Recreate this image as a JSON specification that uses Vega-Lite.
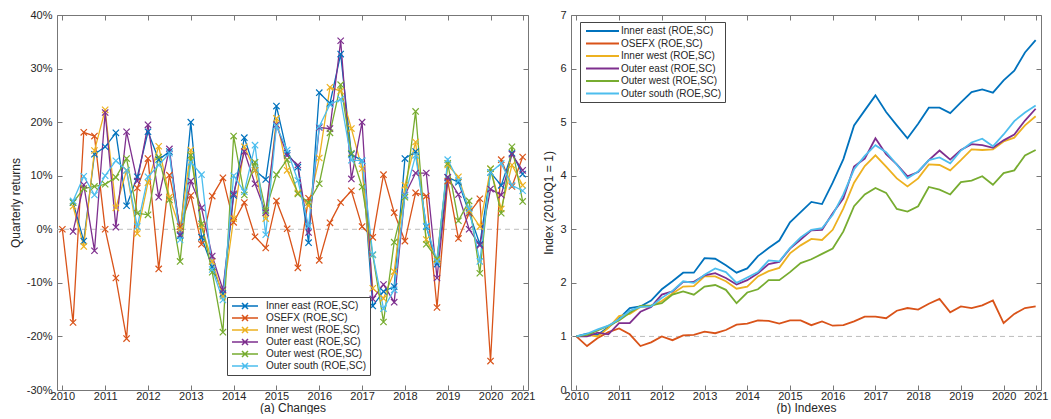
{
  "$schema": "https://vega.github.io/schema/vega-lite/v6.json",
  "padding": {"left": 8, "top": 8, "right": 5, "bottom": 0},
  "spacing": 6,
  "config": {
    "font": "Liberation Sans",
    "view": {"stroke": "#777", "strokeWidth": 1},
    "axis": {"grid": false, "domain": false, "tickColor": "#777", "labelColor": "#262626", "titleColor": "#262626", "labelFontSize": 11, "titleFontSize": 12, "titleFontWeight": "normal", "tickSize": -5, "labelPadding": 10},
    "axisX": {"labelPadding": 5}
  },
  "datasets": {
    "ret": [
      {"q":0,"os":0},
      {"q":1,"ie":5,"os":-17.4,"iw":4.3,"oe":-0.4,"ow":5,"so":5.3},
      {"q":2,"ie":-2.2,"os":18.1,"iw":-3.2,"oe":8.3,"ow":7.6,"so":9.9},
      {"q":3,"ie":14,"os":17.4,"iw":14.7,"oe":-4,"ow":8,"so":6.4},
      {"q":4,"ie":15.4,"os":0,"iw":22.3,"oe":21.8,"ow":8.4,"so":10},
      {"q":5,"ie":18,"os":-9.1,"iw":4,"oe":0.4,"ow":9.7,"so":12.8},
      {"q":6,"ie":4.4,"os":-20.4,"iw":11,"oe":18.2,"ow":13.2,"so":11},
      {"q":7,"ie":9.8,"os":7.7,"iw":-0.8,"oe":9,"ow":3,"so":0.5},
      {"q":8,"ie":18.2,"os":13.2,"iw":8.7,"oe":19.5,"ow":2.7,"so":9.8},
      {"q":9,"ie":13,"os":-7.4,"iw":15.5,"oe":6,"ow":13.5,"so":12},
      {"q":10,"ie":14.5,"os":10.1,"iw":6,"oe":15,"ow":5.5,"so":14.2},
      {"q":11,"ie":-1.2,"os":0.5,"iw":0,"oe":-1,"ow":-6,"so":-2},
      {"q":12,"ie":20,"os":6.3,"iw":14.8,"oe":9,"ow":13.8,"so":12.5},
      {"q":13,"ie":-1.5,"os":-2.8,"iw":0.5,"oe":4,"ow":1,"so":10.2},
      {"q":14,"ie":-7,"os":6.2,"iw":-6,"oe":-5,"ow":-8,"so":-7.5},
      {"q":15,"ie":-12,"os":9.6,"iw":-12.5,"oe":-11.3,"ow":-19.2,"so":-13.2},
      {"q":16,"ie":6.3,"os":1.3,"iw":2,"oe":6.6,"ow":17.4,"so":10},
      {"q":17,"ie":17.1,"os":5,"iw":15.4,"oe":14.5,"ow":6.4,"so":7},
      {"q":18,"ie":11,"os":-1.4,"iw":11,"oe":8.5,"ow":12.5,"so":15.7},
      {"q":19,"ie":9.3,"os":-3.5,"iw":2,"oe":3.1,"ow":3.5,"so":-1},
      {"q":20,"ie":23,"os":5.3,"iw":20.7,"oe":19.5,"ow":10.2,"so":19.3},
      {"q":21,"ie":14.2,"os":0.1,"iw":11,"oe":13.8,"ow":13,"so":14.8},
      {"q":22,"ie":11.6,"os":-7.2,"iw":6.8,"oe":12,"ow":6.6,"so":9.1},
      {"q":23,"ie":-2.5,"os":5.8,"iw":4.4,"oe":-0.6,"ow":5,"so":0.6},
      {"q":24,"ie":25.5,"os":-5.8,"iw":13.3,"oe":19,"ow":8.5,"so":19.2},
      {"q":25,"ie":23.5,"os":1.2,"iw":26.5,"oe":18.8,"ow":18,"so":23.3},
      {"q":26,"ie":32.7,"os":5,"iw":25.8,"oe":35.2,"ow":27,"so":24.3},
      {"q":27,"ie":14,"os":7.2,"iw":18.8,"oe":9.4,"ow":14.2,"so":12.9},
      {"q":28,"ie":12.8,"os":0.5,"iw":11.3,"oe":20,"ow":7.9,"so":12.8},
      {"q":29,"ie":-14.3,"os":-1.5,"iw":-11,"oe":-13,"ow":-4.8,"so":-4.7},
      {"q":30,"ie":-11.6,"os":10.2,"iw":-12.9,"oe":-10.3,"ow":-17.3,"so":-14.8},
      {"q":31,"ie":-10.7,"os":3.1,"iw":-7.9,"oe":-13.6,"ow":-2.4,"so":-11.3},
      {"q":32,"ie":13.2,"os":-2.2,"iw":8.2,"oe":6.4,"ow":6,"so":6.3},
      {"q":33,"ie":14.5,"os":6.8,"iw":16.3,"oe":10.5,"ow":22,"so":13.8},
      {"q":34,"ie":0.5,"os":6.2,"iw":-1.9,"oe":10.5,"ow":-2.8,"so":0.6},
      {"q":35,"ie":-6.5,"os":-14.6,"iw":-5.7,"oe":-9.1,"ow":-5.5,"so":-6},
      {"q":36,"ie":9.7,"os":9,"iw":12,"oe":9.7,"ow":12.3,"so":13},
      {"q":37,"ie":8.8,"os":-1.7,"iw":9.8,"oe":6.5,"ow":1.6,"so":9.1},
      {"q":38,"ie":3.1,"os":3,"iw":3.5,"oe":0,"ow":5.3,"so":3.8},
      {"q":39,"ie":-2.8,"os":5.7,"iw":0.5,"oe":-3,"ow":-8.2,"so":-6},
      {"q":40,"ie":10.6,"os":-24.6,"iw":11.3,"oe":7.5,"ow":11.3,"so":10.6},
      {"q":41,"ie":8.2,"os":13,"iw":3.8,"oe":6.4,"ow":3,"so":12.3},
      {"q":42,"ie":14.2,"os":8,"iw":12,"oe":14,"ow":15.4,"so":8.2},
      {"q":43,"ie":10.3,"os":13.5,"iw":8.2,"oe":11,"ow":5.2,"so":7.2}
    ],
    "idx": [
      {"q":0,"ie":1,"os":1,"iw":1,"oe":1,"ow":1,"so":1},
      {"q":1,"ie":1.05,"os":0.82,"iw":1.03,"oe":1.0,"ow":1.03,"so":1.05},
      {"q":2,"ie":1.03,"os":0.97,"iw":1.0,"oe":1.07,"ow":1.11,"so":1.13},
      {"q":3,"ie":1.17,"os":1.08,"iw":1.16,"oe":1.04,"ow":1.2,"so":1.2},
      {"q":4,"ie":1.33,"os":1.15,"iw":1.38,"oe":1.25,"ow":1.3,"so":1.32},
      {"q":5,"ie":1.53,"os":1.04,"iw":1.42,"oe":1.25,"ow":1.44,"so":1.48},
      {"q":6,"ie":1.56,"os":0.82,"iw":1.55,"oe":1.46,"ow":1.57,"so":1.55},
      {"q":7,"ie":1.67,"os":0.89,"iw":1.56,"oe":1.55,"ow":1.58,"so":1.56},
      {"q":8,"ie":1.88,"os":1.0,"iw":1.66,"oe":1.78,"ow":1.62,"so":1.72},
      {"q":9,"ie":2.03,"os":0.93,"iw":1.8,"oe":1.84,"ow":1.78,"so":1.85},
      {"q":10,"ie":2.19,"os":1.02,"iw":1.93,"oe":2.02,"ow":1.84,"so":2.03},
      {"q":11,"ie":2.19,"os":1.03,"iw":1.94,"oe":2.02,"ow":1.78,"so":2.0},
      {"q":12,"ie":2.46,"os":1.09,"iw":2.12,"oe":2.14,"ow":1.93,"so":2.15},
      {"q":13,"ie":2.45,"os":1.06,"iw":2.12,"oe":2.18,"ow":1.96,"so":2.27},
      {"q":14,"ie":2.33,"os":1.12,"iw":2.03,"oe":2.09,"ow":1.87,"so":2.2},
      {"q":15,"ie":2.19,"os":1.22,"iw":1.89,"oe":1.97,"ow":1.62,"so":2.0},
      {"q":16,"ie":2.27,"os":1.24,"iw":1.93,"oe":2.05,"ow":1.82,"so":2.1},
      {"q":17,"ie":2.5,"os":1.3,"iw":2.12,"oe":2.18,"ow":1.88,"so":2.2},
      {"q":18,"ie":2.65,"os":1.29,"iw":2.22,"oe":2.35,"ow":2.05,"so":2.42},
      {"q":19,"ie":2.79,"os":1.24,"iw":2.28,"oe":2.39,"ow":2.05,"so":2.4},
      {"q":20,"ie":3.13,"os":1.3,"iw":2.55,"oe":2.64,"ow":2.2,"so":2.65},
      {"q":21,"ie":3.32,"os":1.3,"iw":2.7,"oe":2.81,"ow":2.37,"so":2.85},
      {"q":22,"ie":3.51,"os":1.21,"iw":2.82,"oe":2.98,"ow":2.44,"so":2.99},
      {"q":23,"ie":3.47,"os":1.28,"iw":2.8,"oe":2.99,"ow":2.54,"so":3.02},
      {"q":24,"ie":3.87,"os":1.2,"iw":2.99,"oe":3.3,"ow":2.64,"so":3.27},
      {"q":25,"ie":4.31,"os":1.21,"iw":3.39,"oe":3.58,"ow":2.96,"so":3.65},
      {"q":26,"ie":4.94,"os":1.28,"iw":3.87,"oe":4.17,"ow":3.43,"so":4.12},
      {"q":27,"ie":5.22,"os":1.37,"iw":4.18,"oe":4.32,"ow":3.65,"so":4.37},
      {"q":28,"ie":5.5,"os":1.37,"iw":4.38,"oe":4.7,"ow":3.77,"so":4.57},
      {"q":29,"ie":5.19,"os":1.34,"iw":4.17,"oe":4.4,"ow":3.68,"so":4.44},
      {"q":30,"ie":4.94,"os":1.48,"iw":3.95,"oe":4.21,"ow":3.38,"so":4.21},
      {"q":31,"ie":4.7,"os":1.53,"iw":3.8,"oe":3.99,"ow":3.33,"so":3.95},
      {"q":32,"ie":4.97,"os":1.5,"iw":3.95,"oe":4.07,"ow":3.43,"so":4.08},
      {"q":33,"ie":5.27,"os":1.61,"iw":4.21,"oe":4.29,"ow":3.79,"so":4.29},
      {"q":34,"ie":5.27,"os":1.7,"iw":4.2,"oe":4.47,"ow":3.74,"so":4.34},
      {"q":35,"ie":5.17,"os":1.45,"iw":4.1,"oe":4.3,"ow":3.65,"so":4.23},
      {"q":36,"ie":5.37,"os":1.56,"iw":4.29,"oe":4.48,"ow":3.88,"so":4.47},
      {"q":37,"ie":5.56,"os":1.53,"iw":4.49,"oe":4.59,"ow":3.91,"so":4.62},
      {"q":38,"ie":5.61,"os":1.58,"iw":4.48,"oe":4.57,"ow":3.99,"so":4.69},
      {"q":39,"ie":5.55,"os":1.67,"iw":4.49,"oe":4.52,"ow":3.83,"so":4.55},
      {"q":40,"ie":5.78,"os":1.25,"iw":4.64,"oe":4.66,"ow":4.05,"so":4.77},
      {"q":41,"ie":5.96,"os":1.42,"iw":4.71,"oe":4.77,"ow":4.1,"so":5.02},
      {"q":42,"ie":6.3,"os":1.53,"iw":4.94,"oe":5.03,"ow":4.38,"so":5.18},
      {"q":43,"ie":6.53,"os":1.56,"iw":5.11,"oe":5.25,"ow":4.48,"so":5.31}
    ]
  },
  "hconcat": [
    {
      "width": 471, "height": 375,
      "layer": [
        {
          "data": {"values": [{}]},
          "mark": {"type": "rule", "strokeDash": [5, 4], "color": "#bdbdbd", "strokeWidth": 1},
          "encoding": {"y": {"datum": 0, "type": "quantitative", "axis": null}}
        },
        {
          "data": {"name": "ret"},
          "transform": [{"fold": ["ie","os","iw","oe","ow","so"], "as": ["s","r"]}, {"filter": "isValid(datum.r)"}],
          "mark": {"type": "line", "strokeWidth": 1.3},
          "encoding": {
            "x": {"field": "q", "type": "quantitative", "scale": {"domain": [-0.5, 43.5], "nice": false, "zero": false},
                  "axis": {"values": [0,4,8,12,16,20,24,28,32,36,40,43], "labelExpr": "datum.value == 43 ? '2021' : '' + (2010 + datum.value / 4)", "title": "(a) Changes", "titlePadding": 1}},
            "y": {"field": "r", "type": "quantitative", "scale": {"domain": [-30, 40], "nice": false},
                  "axis": {"values": [-30,-20,-10,0,10,20,30,40], "labelExpr": "datum.value + '%'", "title": "Quarterly returns", "titlePadding": 4}},
            "color": {"field": "s", "type": "nominal", "sort": null,
                      "scale": {"domain": ["ie","os","iw","oe","ow","so"], "range": ["#0072BD","#D95319","#EDB120","#7E2F8E","#77AC30","#4DBEEE"]},
                      "legend": {"orient": "none", "legendX": 170, "legendY": 282, "title": null, "fillColor": "white", "strokeColor": "#444", "padding": 3,
                                 "symbolType": "M-2.6,0L2.6,0M-0.6,-0.6L0.6,0.6M-0.6,0.6L0.6,-0.6", "symbolSize": 100, "symbolOffset": 9, "symbolStrokeWidth": 1.5,
                                 "labelFontSize": 10, "labelColor": "#262626", "rowPadding": 0, "labelOffset": 15, "labelLimit": 300,
                                 "labelExpr": "datum.label == 'ie' ? 'Inner east (ROE,SC)' : datum.label == 'os' ? 'OSEFX (ROE,SC)' : datum.label == 'iw' ? 'Inner west (ROE,SC)' : datum.label == 'oe' ? 'Outer east (ROE,SC)' : datum.label == 'ow' ? 'Outer west (ROE,SC)' : 'Outer south (ROE,SC)'"}}
          }
        },
        {
          "data": {"name": "ret"},
          "transform": [{"fold": ["ie","os","iw","oe","ow","so"], "as": ["s","r"]}, {"filter": "isValid(datum.r)"}],
          "mark": {"type": "point", "shape": "M-1,-1L1,1M-1,1L1,-1", "filled": false, "size": 40, "strokeWidth": 1.2, "opacity": 1},
          "encoding": {
            "x": {"field": "q", "type": "quantitative", "axis": {"orient": "top", "labels": false, "title": null, "values": [0,4,8,12,16,20,24,28,32,36,40,43]}},
            "y": {"field": "r", "type": "quantitative", "axis": {"orient": "right", "labels": false, "title": null, "values": [-30,-20,-10,0,10,20,30,40]}},
            "color": {"field": "s", "type": "nominal", "sort": null,
                      "legend": {"orient": "none", "legendX": 170, "legendY": 282, "title": null, "fillColor": "white", "strokeColor": "#444", "padding": 3,
                                 "symbolType": "M-2.6,0L2.6,0M-0.6,-0.6L0.6,0.6M-0.6,0.6L0.6,-0.6", "symbolSize": 100, "symbolOffset": 9, "symbolStrokeWidth": 1.5,
                                 "labelFontSize": 10, "labelColor": "#262626", "rowPadding": 0, "labelOffset": 15, "labelLimit": 300,
                                 "labelExpr": "datum.label == 'ie' ? 'Inner east (ROE,SC)' : datum.label == 'os' ? 'OSEFX (ROE,SC)' : datum.label == 'iw' ? 'Inner west (ROE,SC)' : datum.label == 'oe' ? 'Outer east (ROE,SC)' : datum.label == 'ow' ? 'Outer west (ROE,SC)' : 'Outer south (ROE,SC)'"}}
          }
        }
      ],
      "resolve": {"axis": {"x": "independent", "y": "independent"}}
    },
    {
      "width": 470, "height": 375,
      "layer": [
        {
          "data": {"values": [{}]},
          "mark": {"type": "rule", "strokeDash": [5, 4], "color": "#bdbdbd", "strokeWidth": 1},
          "encoding": {"y": {"datum": 1, "type": "quantitative", "axis": null}}
        },
        {
          "data": {"name": "idx"},
          "transform": [{"fold": ["ie","os","iw","oe","ow","so"], "as": ["s","v"]}],
          "mark": {"type": "line", "strokeWidth": 1.8},
          "encoding": {
            "x": {"field": "q", "type": "quantitative", "scale": {"domain": [-0.5, 43.5], "nice": false, "zero": false},
                  "axis": {"values": [0,4,8,12,16,20,24,28,32,36,40,43], "labelExpr": "datum.value == 43 ? '2021' : '' + (2010 + datum.value / 4)", "title": "(b) Indexes", "titlePadding": 1}},
            "y": {"field": "v", "type": "quantitative", "scale": {"domain": [0, 7], "nice": false},
                  "axis": {"values": [0,1,2,3,4,5,6,7], "title": "Index (2010Q1 = 1)", "titlePadding": 4}},
            "color": {"field": "s", "type": "nominal", "sort": null,
                      "scale": {"domain": ["ie","os","iw","oe","ow","so"], "range": ["#0072BD","#D95319","#EDB120","#7E2F8E","#77AC30","#4DBEEE"]},
                      "legend": {"orient": "none", "legendX": 9, "legendY": 7, "title": null, "fillColor": "white", "strokeColor": "#444", "padding": 3,
                                 "symbolType": "M-3.3,0L3.3,0", "symbolSize": 100, "symbolOffset": 13.5, "symbolStrokeWidth": 2,
                                 "labelFontSize": 10, "labelColor": "#262626", "rowPadding": 1.5, "labelOffset": 12.5, "labelLimit": 300,
                                 "labelExpr": "datum.label == 'ie' ? 'Inner east (ROE,SC)' : datum.label == 'os' ? 'OSEFX (ROE,SC)' : datum.label == 'iw' ? 'Inner west (ROE,SC)' : datum.label == 'oe' ? 'Outer east (ROE,SC)' : datum.label == 'ow' ? 'Outer west (ROE,SC)' : 'Outer south (ROE,SC)'"}}
          }
        },
        {
          "data": {"name": "idx"},
          "transform": [{"fold": ["ie","os","iw","oe","ow","so"], "as": ["s","v"]}],
          "mark": {"type": "line", "strokeOpacity": 0},
          "encoding": {
            "x": {"field": "q", "type": "quantitative", "axis": {"orient": "top", "labels": false, "title": null, "values": [0,4,8,12,16,20,24,28,32,36,40,43]}},
            "y": {"field": "v", "type": "quantitative", "axis": {"orient": "right", "labels": false, "title": null, "values": [0,1,2,3,4,5,6,7]}},
            "detail": {"field": "s", "type": "nominal"}
          }
        }
      ],
      "resolve": {"axis": {"x": "independent", "y": "independent"}}
    }
  ],
  "resolve": {"scale": {"color": "independent"}, "legend": {"color": "independent"}}
}
